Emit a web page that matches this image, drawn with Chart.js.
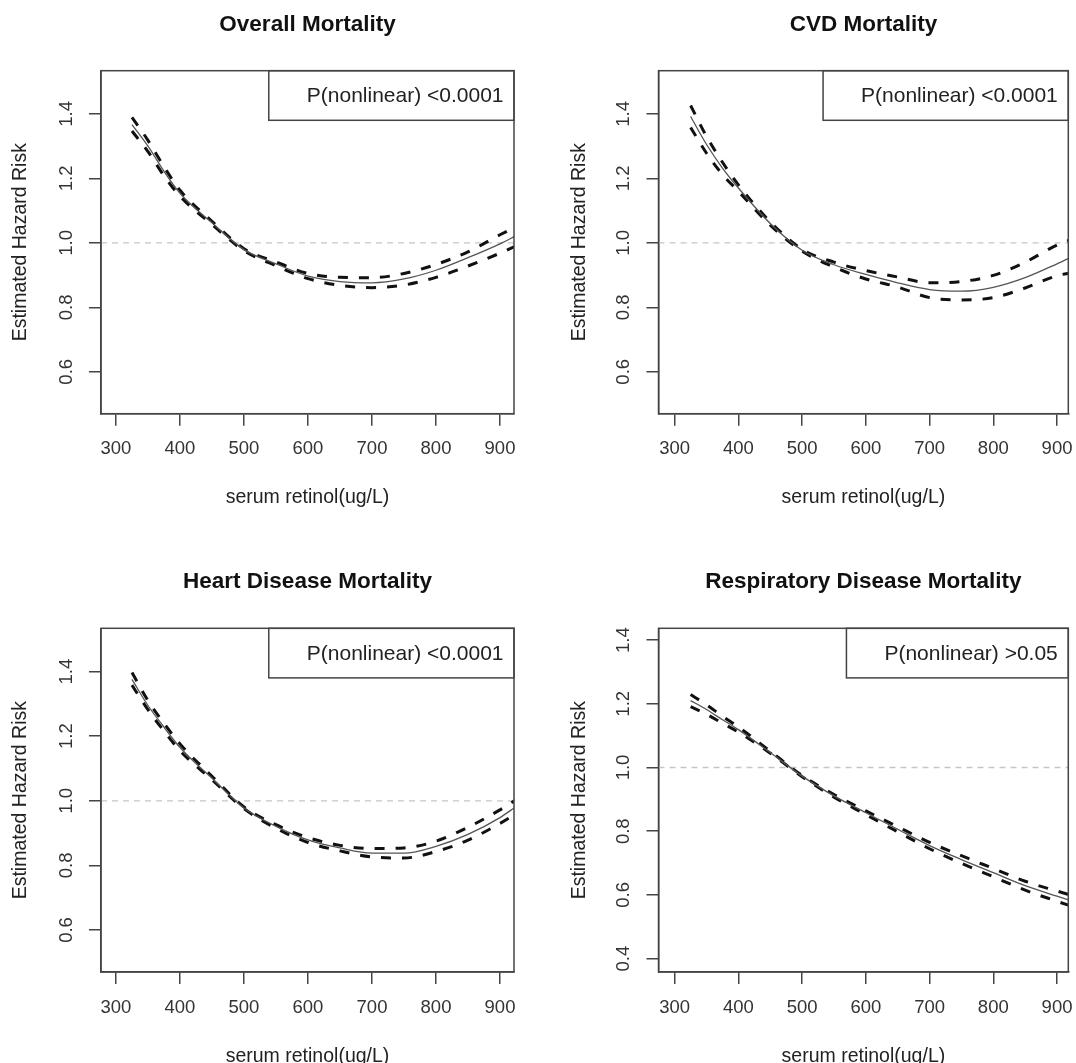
<!DOCTYPE html>
<html>
<head>
<meta charset="utf-8">
<script src="https://cdn.jsdelivr.net/npm/chart.js@4.4.0/dist/chart.umd.min.js"></script>
<style>
  html, body { margin: 0; padding: 0; background: #fff; overflow: hidden; width: 1076px; height: 1063px; }
  canvas { position: absolute; }
</style>
</head>
<body>
<canvas id="c1" width="538" height="540" style="left:0px;top:0px"></canvas>
<canvas id="c2" width="560" height="540" style="left:538px;top:0px"></canvas>
<canvas id="c3" width="538" height="540" style="left:0px;top:540px"></canvas>
<canvas id="c4" width="560" height="540" style="left:538px;top:540px"></canvas>
<script>
// serum retinol (ug/L) where the curves were read
var retinol = [325, 350, 375, 400, 450, 500, 550, 600, 650, 700, 750, 800, 850, 900, 925];

var overallHR    = [1.367, 1.300, 1.222, 1.154, 1.062, 0.979, 0.935, 0.897, 0.880, 0.876, 0.888, 0.915, 0.954, 0.997, 1.022];
var overallUpper = [1.389, 1.318, 1.236, 1.163, 1.067, 0.982, 0.941, 0.905, 0.893, 0.892, 0.905, 0.933, 0.972, 1.025, 1.050];
var overallLower = [1.347, 1.283, 1.208, 1.145, 1.057, 0.976, 0.929, 0.889, 0.868, 0.861, 0.869, 0.893, 0.928, 0.968, 0.990];

var cvdHR    = [1.392, 1.305, 1.232, 1.170, 1.060, 0.977, 0.932, 0.902, 0.876, 0.855, 0.850, 0.862, 0.892, 0.935, 0.958];
var cvdUpper = [1.426, 1.330, 1.250, 1.180, 1.065, 0.980, 0.940, 0.914, 0.894, 0.876, 0.880, 0.899, 0.940, 0.993, 1.012];
var cvdLower = [1.358, 1.278, 1.212, 1.160, 1.055, 0.974, 0.925, 0.888, 0.863, 0.830, 0.823, 0.830, 0.860, 0.898, 0.908];

var heartHR    = [1.376, 1.295, 1.228, 1.165, 1.070, 0.978, 0.921, 0.879, 0.854, 0.838, 0.838, 0.859, 0.896, 0.948, 0.982];
var heartUpper = [1.397, 1.310, 1.240, 1.176, 1.076, 0.981, 0.926, 0.886, 0.862, 0.852, 0.854, 0.875, 0.918, 0.972, 1.003];
var heartLower = [1.358, 1.282, 1.216, 1.155, 1.065, 0.976, 0.915, 0.871, 0.845, 0.826, 0.823, 0.843, 0.878, 0.930, 0.960];

var respHR    = [1.210, 1.182, 1.150, 1.119, 1.047, 0.973, 0.911, 0.858, 0.806, 0.755, 0.711, 0.670, 0.629, 0.596, 0.580];
var respUpper = [1.229, 1.197, 1.161, 1.127, 1.051, 0.975, 0.915, 0.864, 0.814, 0.765, 0.723, 0.683, 0.643, 0.612, 0.597];
var respLower = [1.191, 1.167, 1.139, 1.111, 1.045, 0.971, 0.907, 0.852, 0.798, 0.745, 0.699, 0.657, 0.615, 0.580, 0.563];

var xTicks = [300, 400, 500, 600, 700, 800, 900];
var yTicksA = [0.6, 0.8, 1.0, 1.2, 1.4];
var yTicksB = [0.4, 0.6, 0.8, 1.0, 1.2, 1.4];

var titles = ['Overall Mortality', 'CVD Mortality', 'Heart Disease Mortality', 'Respiratory Disease Mortality'];
var pTexts = ['P(nonlinear) <0.0001', 'P(nonlinear) <0.0001', 'P(nonlinear) <0.0001', 'P(nonlinear) >0.05'];
var xTitle = 'serum retinol(ug/L)';
var yTitle = 'Estimated Hazard Risk';

var FONT = '"Liberation Sans", Arial, Helvetica, sans-serif';

function toPts(ys) {
  return retinol.map(function (x, i) { return { x: x, y: ys[i] }; });
}

// box round the plot + the P(nonlinear) label
var boxPlugin = {
  id: 'rbox',
  afterDraw: function (chart, args, opts) {
    var ctx = chart.ctx, a = chart.chartArea;
    ctx.save();
    ctx.font = '21px ' + FONT;
    var w = ctx.measureText(opts.text).width + 48.5;
    var h = 49.6;
    ctx.fillStyle = '#fff';
    ctx.fillRect(a.right - w, a.top, w, h);
    ctx.strokeStyle = '#444';
    ctx.lineWidth = 1.5;
    ctx.strokeRect(a.right - w, a.top, w, h);
    ctx.fillStyle = '#222';
    ctx.textAlign = 'right';
    ctx.textBaseline = 'middle';
    ctx.fillText(opts.text, a.right - 10.5, a.top + h / 2 + 1);
    ctx.strokeRect(a.left, a.top, a.right - a.left, a.bottom - a.top);
    ctx.restore();
  }
};

function makePanel(id, p) {
  new Chart(id, {
    type: 'line',
    data: {
      datasets: [
        { data: toPts(p.hr), borderColor: '#555', borderWidth: 1.3 },
        { data: toPts(p.upper), borderColor: '#111', borderWidth: 3, borderDash: [10, 11] },
        { data: toPts(p.lower), borderColor: '#111', borderWidth: 3, borderDash: [10, 11] },
        { data: [{ x: p.xMin, y: 1 }, { x: p.xMax, y: 1 }], borderColor: '#c6c6c6', borderWidth: 1.3, borderDash: [6, 5] }
      ]
    },
    options: {
      responsive: false,
      animation: false,
      elements: { point: { radius: 0 }, line: { cubicInterpolationMode: 'monotone', fill: false } },
      layout: { padding: { left: 0, top: 0, bottom: 0, right: p.padRight } },
      plugins: {
        legend: { display: false },
        tooltip: { enabled: false },
        title: {
          display: true, text: p.title, fullSize: false, color: '#111',
          font: { family: FONT, size: 22.5, weight: 'bold' },
          padding: { top: p.titleTop, bottom: p.titleBottom }
        },
        rbox: { text: p.pText }
      },
      scales: {
        x: {
          type: 'linear', min: p.xMin, max: p.xMax,
          afterBuildTicks: function (s) { s.ticks = xTicks.map(function (v) { return { value: v }; }); },
          afterFit: function (s) { s.height = p.xAxisH; s.paddingLeft = 0; s.paddingRight = 0; },
          grid: { drawOnChartArea: false, drawTicks: true, tickLength: 12, color: '#444', lineWidth: 1.5 },
          border: { display: true, color: '#444', width: 1.5 },
          ticks: { color: '#333', padding: 12.5, maxRotation: 0, font: { family: FONT, size: 18.5 } },
          title: { display: true, text: xTitle, color: '#222', font: { family: FONT, size: 19.5 }, padding: { top: 0, bottom: p.xTitlePad } }
        },
        y: {
          type: 'linear', min: p.yMin, max: p.yMax,
          afterBuildTicks: function (s) { s.ticks = p.yTicks.map(function (v) { return { value: v }; }); },
          afterFit: function (s) { s.width = p.yAxisW; s.paddingTop = 0; s.paddingBottom = 0; },
          grid: { drawOnChartArea: false, drawTicks: true, tickLength: 12, color: '#444', lineWidth: 1.5 },
          border: { display: true, color: '#444', width: 1.5 },
          ticks: {
            color: '#333', padding: 9.3, minRotation: 90, maxRotation: 90, crossAlign: 'center',
            font: { family: FONT, size: 18.5 },
            callback: function (v) { return Number(v).toFixed(1); }
          },
          title: { display: true, text: yTitle, color: '#222', font: { family: FONT, size: 19.5 }, padding: { top: p.yTitlePad, bottom: 0 } }
        }
      }
    },
    plugins: [boxPlugin]
  });
}

// column / row settings (left column, right column, top row, bottom row)
var colL = { xMin: 276.6, xMax: 921.9, yAxisW: 101, padRight: 24, yTitlePad: 8.9 };
var colR = { xMin: 274.6, xMax: 917.7, yAxisW: 120.5, padRight: 29.7, yTitlePad: 29.8 };
var rowT = { titleTop: 11.5, titleBottom: 32.2, xAxisH: 126.3, xTitlePad: 31 };
var rowB = { titleTop: 28.5, titleBottom: 32.8, xAxisH: 108, xTitlePad: 12 };

function merge() {
  var o = {};
  for (var i = 0; i < arguments.length; i++) for (var k in arguments[i]) o[k] = arguments[i][k];
  return o;
}

makePanel('c1', merge(colL, rowT, { title: titles[0], pText: pTexts[0], hr: overallHR, upper: overallUpper, lower: overallLower, yMin: 0.47, yMax: 1.534, yTicks: yTicksA }));
makePanel('c2', merge(colR, rowT, { title: titles[1], pText: pTexts[1], hr: cvdHR, upper: cvdUpper, lower: cvdLower, yMin: 0.47, yMax: 1.534, yTicks: yTicksA }));
makePanel('c3', merge(colL, rowB, { title: titles[2], pText: pTexts[2], hr: heartHR, upper: heartUpper, lower: heartLower, yMin: 0.47, yMax: 1.534, yTicks: yTicksA }));
makePanel('c4', merge(colR, rowB, { title: titles[3], pText: pTexts[3], hr: respHR, upper: respUpper, lower: respLower, yMin: 0.358, yMax: 1.437, yTicks: yTicksB }));
</script>
</body>
</html>
